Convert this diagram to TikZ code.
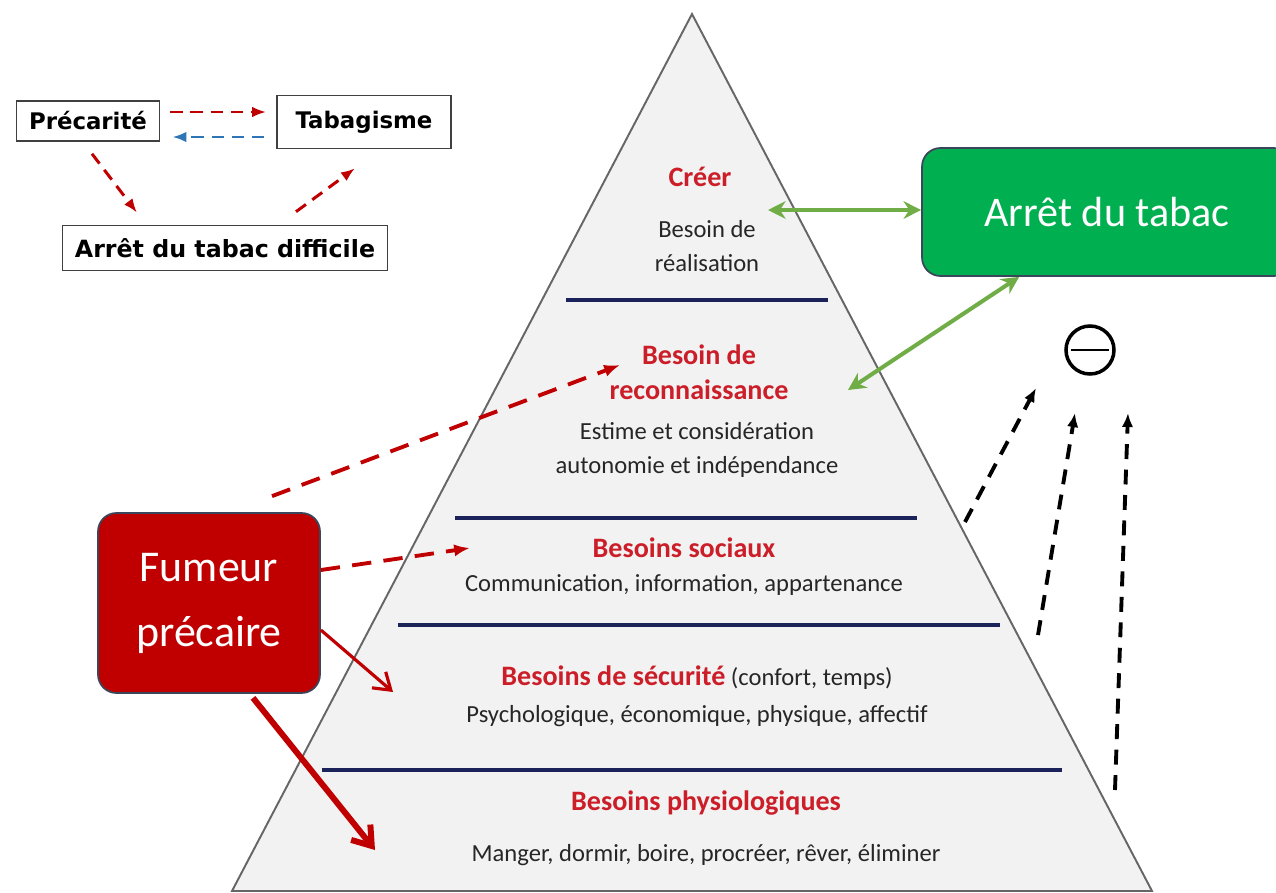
\documentclass[tikz,border=0pt]{standalone}
\usepackage{fontspec}
\setmainfont{Carlito}
\newfontfamily\verdfont{DejaVu Sans}
\usetikzlibrary{positioning}
\usetikzlibrary{calc}
\usetikzlibrary{arrows.meta}
\definecolor{pyrfond}{RGB}{242,242,242}
\definecolor{pyrtrait}{RGB}{28,34,90}
\definecolor{rougebox}{RGB}{192,0,0}
\definecolor{rougetxt}{RGB}{204,30,40}
\definecolor{vertbox}{RGB}{0,176,80}
\definecolor{vertfleche}{RGB}{112,173,71}
\definecolor{bleufleche}{RGB}{46,117,182}
\definecolor{grisbord}{RGB}{60,70,90}
\definecolor{texte}{RGB}{38,38,38}
\tikzset{every picture/.style={line width=1pt}}

\begin{document}
\begin{tikzpicture}[x=0.02cm,y=-0.02cm,
petitbox/.style={draw=black!75, line width=0.9pt, font=\verdfont\bfseries\fontsize{13}{15}\selectfont, inner sep=0pt},
titre/.style={text=rougetxt, font=\bfseries\fontsize{16}{20}\selectfont, align=center},
corps/.style={text=texte, font=\fontsize{14}{19}\selectfont, align=center},
etage/.style={draw=pyrtrait, line width=2.2pt},
pointille/.style={dash pattern=on 7pt off 4.5pt, line width=1.7pt, -{Latex[length=8pt,width=6pt]}},
grandpointille/.style={draw=rougebox, dash pattern=on 11pt off 7pt, line width=2.2pt, -{Latex[length=9pt,width=7pt]}},
noirpointille/.style={draw=black, dash pattern=on 8.5pt off 6pt, line width=2.2pt, -{Latex[length=8pt,width=6.5pt]}},
vertdouble/.style={draw=vertfleche, line width=2.3pt, {Stealth[length=10pt,width=10pt]}-{Stealth[length=10pt,width=10pt]}},
grosbox/.style={rounded corners=2.2ex, draw=grisbord, line width=1pt, text=white, align=center}]
\useasboundingbox (0,0) rectangle (1276,893);

\coordinate (sommet) at (692,14);
\draw[fill=pyrfond, draw=black!60, line width=1.1pt] (sommet) -- (1152,891) -- (232,891) -- cycle;
\foreach \y/\a/\b in {300/566/828,518/455/917,625/398/1000,770/322/1062} {
\draw[etage] (\a,\y) -- (\b,\y);
}

\node (creer) at (700,177) [titre] {Créer};
\node (realis) at (707,246) [corps] {Besoin de\\réalisation};
\node (reconn) at (699,372) [titre] {Besoin de\\reconnaissance};
\node (estime) at (697,450) [corps] {Estime et considération\\autonomie et indépendance};
\node (sociaux) at (684,548) [titre] {Besoins sociaux};
\node (commun) at (684,585) [corps] {Communication, information, appartenance};
\node (secu) at (697,678) [corps] {\textcolor{rougetxt}{\bfseries\fontsize{16}{20}\selectfont Besoins de sécurité} (confort, temps)};
\node (psycho) at (697,716) [corps] {Psychologique, économique, physique, affectif};
\node (physio) at (706,803) [titre] {Besoins physiologiques};
\node (manger) at (706,855) [corps] {Manger, dormir, boire, procréer, rêver, éliminer};

\node (prec) at (88,121) [petitbox, minimum width=2.86cm, minimum height=0.8cm] {Précarité};
\node (tabag) at (364,122) [petitbox, minimum width=3.48cm, minimum height=1.06cm] {Tabagisme};
\node (diffic) at (225,248) [petitbox, minimum width=6.5cm, minimum height=0.9cm, font=\verdfont\bfseries\fontsize{13.5}{15}\selectfont] {Arrêt du tabac difficile};
\draw[pointille, draw=rougebox] ($(prec.east)+(10,-9)$) -- ($(tabag.west)+(-10,-10)$);
\draw[pointille, draw=bleufleche] ($(tabag.west)+(-12,15)$) -- ($(prec.east)+(12,16)$);
\draw[pointille, draw=rougebox] ($(prec.south)+(4,12)$) -- ($(diffic.north)+(-88,-12)$);
\draw[pointille, draw=rougebox] ($(diffic.north)+(71,-13)$) -- ($(tabag.south)+(-9,19)$);

\node (arret) at (1107,212) [grosbox, fill=vertbox, minimum width=7.4cm, minimum height=2.56cm, font=\fontsize{24}{30}\selectfont] {Arrêt du tabac};
\node (fumeur) at (209,603) [grosbox, fill=rougebox, minimum width=4.44cm, minimum height=3.6cm, font=\fontsize{25}{37}\selectfont] {Fumeur\\précaire};
\node (moins) at (1090,350) [circle, draw=black, line width=2pt, minimum size=0.96cm] {};
\draw[line width=1.6pt] ($(moins.west)+(7,0)$) -- ($(moins.east)+(-7,0)$);

\coordinate (cibleA) at (768,210);
\coordinate (cibleB) at (848,390);
\draw[vertdouble] (cibleA) -- (arret.west |- cibleA);
\draw[vertdouble] (cibleB) -- ($(arret.south west)+(98,0)$);

\coordinate (versreconn) at (620,365);
\coordinate (verssociaux) at (470,548);
\coordinate (verssecu) at (393,692);
\coordinate (versphysio) at (375,850);
\draw[grandpointille] ($(fumeur.north)+(63,-16)$) -- (versreconn);
\draw[grandpointille] ($(fumeur.east)+(0,-33)$) -- (verssociaux);
\draw[draw=rougebox, line width=1.8pt, -{Straight Barb[length=9pt,width=12pt]}] ($(fumeur.east)+(0,27)$) -- (verssecu);
\draw[draw=rougebox, line width=3.4pt, -{Straight Barb[length=10pt,width=14pt]}] ($(fumeur.south)+(44,4)$) -- (versphysio);

\coordinate (departA) at (965,522);
\coordinate (departB) at (1038,635);
\coordinate (departC) at (1115,790);
\draw[noirpointille] (departA) -- ($(moins)+(-54,38)$);
\draw[noirpointille] (departB) -- ($(moins)+(-15,63)$);
\draw[noirpointille] (departC) -- ($(moins)+(38,63)$);
\end{tikzpicture}
\end{document}
